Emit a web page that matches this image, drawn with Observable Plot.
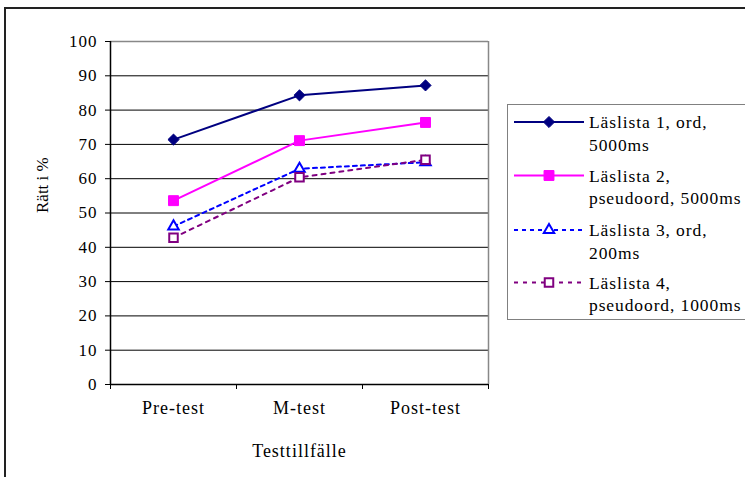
<!DOCTYPE html>
<html>
<head>
<meta charset="utf-8">
<script src="https://cdn.jsdelivr.net/npm/d3@7"></script>
<script src="https://cdn.jsdelivr.net/npm/@observablehq/plot@0.6"></script>
<style>
  html, body { margin: 0; padding: 0; background: #fff; overflow: hidden; }
  #wrap { position: relative; width: 745px; height: 477px; overflow: hidden; }
  #border { position: absolute; left: 4px; top: 7px; width: 800px; height: 520px; border: 2px solid #222; box-sizing: border-box; }
  #chart { position: absolute; left: 0; top: 0; }
  #legend { position: absolute; left: 507px; top: 104px; width: 280px; height: 216px; border: 1.5px solid #808080; box-sizing: border-box; background: #fff; }
</style>
</head>
<body>
<div id="wrap">
  <div id="border"></div>
  <div id="chart"></div>
  <div id="legend"></div>
</div>
<script>
// Test occasions (x categories)
const categories = ["Pre-test", "M-test", "Post-test"];

// Series names, split over two legend lines
const seriesNames = [
  ["Läslista 1, ord,", "5000ms"],
  ["Läslista 2,", "pseudoord, 5000ms"],
  ["Läslista 3, ord,", "200ms"],
  ["Läslista 4,", "pseudoord, 1000ms"]
];

// Percent correct per series, one value per test occasion
const lista1 = [71.4, 84.3, 87.2];
const lista2 = [53.6, 71.1, 76.4];
const lista3 = [46.1, 62.9, 64.8];
const lista4 = [42.8, 60.4, 65.5];

// Y axis ticks
const yTicks = [0, 10, 20, 30, 40, 50, 60, 70, 80, 90, 100];

const yTitle = "Rätt i %";
const xTitle = "Testtillfälle";

// Drawing styles per series
const styles = [
  {color: "#000080", dash: null, symbol: "diamond2", r: 5, fill: "#000080"},
  {color: "#FF00FF", dash: null, symbol: "square", r: 5.6, fill: "#FF00FF"},
  {color: "#0000FF", dash: "4,4", symbol: "triangle", r: 3.9, fill: "#fff"},
  {color: "#800080", dash: "4,5", symbol: "square", r: 4.8, fill: "#fff"}
];

const serif = "'Liberation Serif', 'Times New Roman', serif";

const allValues = [lista1, lista2, lista3, lista4];
const rows = allValues.map((vals, s) =>
  vals.map((v, i) => ({series: s, test: categories[i], value: v}))
);
const xPos = d => categories.indexOf(d.test) + 0.5;

const seriesMarks = rows.flatMap((data, s) => {
  const st = styles[s];
  return [
    Plot.line(data, {x: xPos, y: "value", stroke: st.color, strokeWidth: 2, strokeDasharray: st.dash}),
    Plot.dot(data, {x: xPos, y: "value", symbol: () => st.symbol, r: st.r, fill: st.fill, stroke: st.color, strokeWidth: s >= 2 ? 2 : 1})
  ];
});

const chart = Plot.plot({
  width: 745,
  height: 477,
  marginLeft: 110,
  marginRight: 257,
  marginTop: 41,
  marginBottom: 93,
  style: {fontFamily: serif, fontSize: "17px", letterSpacing: "1px", color: "#000", background: "transparent"},
  symbol: {type: "identity"},
  x: {domain: [0, categories.length], ticks: d3.range(0, categories.length + 1), tickFormat: () => "", tickSize: 5, label: null},
  y: {domain: [0, 100], ticks: yTicks, tickSize: 5, tickPadding: 8, label: null},
  marks: [
    Plot.ruleY(yTicks.filter(t => t > 0 && t < 100), {stroke: "#000", strokeWidth: 1}),
    Plot.ruleY([100], {stroke: "#888", strokeWidth: 1.5}),
    Plot.ruleX([categories.length], {stroke: "#888", strokeWidth: 1.5}),
    Plot.ruleX([0], {stroke: "#000", strokeWidth: 1.5}),
    Plot.ruleY([0], {stroke: "#000", strokeWidth: 1.5}),
    ...seriesMarks,
    Plot.text(categories, {x: (d, i) => i + 0.5, text: d => d, frameAnchor: "bottom", dy: 29, fontSize: 18}),
    Plot.text([xTitle], {text: d => d, frameAnchor: "bottom", dy: 72, fontSize: 18}),
    Plot.text([yTitle], {text: d => d, frameAnchor: "left", dx: -68, rotate: -90, fontSize: 17})
  ]
});
document.getElementById("chart").appendChild(chart);
// the rotated axis title is set without extra tracking
d3.select(chart).selectAll("text").filter(function() { return this.textContent === yTitle; }).style("letter-spacing", "0px");

// Legend: line sample with marker, then a two-line label
const legend = d3.select("#legend").append("svg")
  .attr("width", 280).attr("height", 216)
  .style("font-family", serif)
  .style("font-size", "17.5px")
  .style("letter-spacing", "0.9px");

const symbolTypes = {diamond2: d3.symbolDiamond2, square: d3.symbolSquare, triangle: d3.symbolTriangle};
const rowY = [17, 70.5, 125, 177.5];
seriesNames.forEach((lines, s) => {
  const st = styles[s];
  const g = legend.append("g").attr("transform", `translate(0,${rowY[s]})`);
  g.append("line").attr("x1", 6).attr("x2", 76).attr("y1", 0).attr("y2", 0)
    .attr("stroke", st.color).attr("stroke-width", 2)
    .attr("stroke-dasharray", st.dash);
  g.append("path")
    .attr("d", d3.symbol(symbolTypes[st.symbol], Math.PI * st.r * st.r)())
    .attr("transform", "translate(41,0)")
    .attr("fill", st.fill).attr("stroke", st.color).attr("stroke-width", s >= 2 ? 2 : 1);
  lines.forEach((t, j) => {
    g.append("text").attr("x", 81).attr("y", j * 22.5).attr("dy", "0.35em").text(t);
  });
});
</script>
</body>
</html>
